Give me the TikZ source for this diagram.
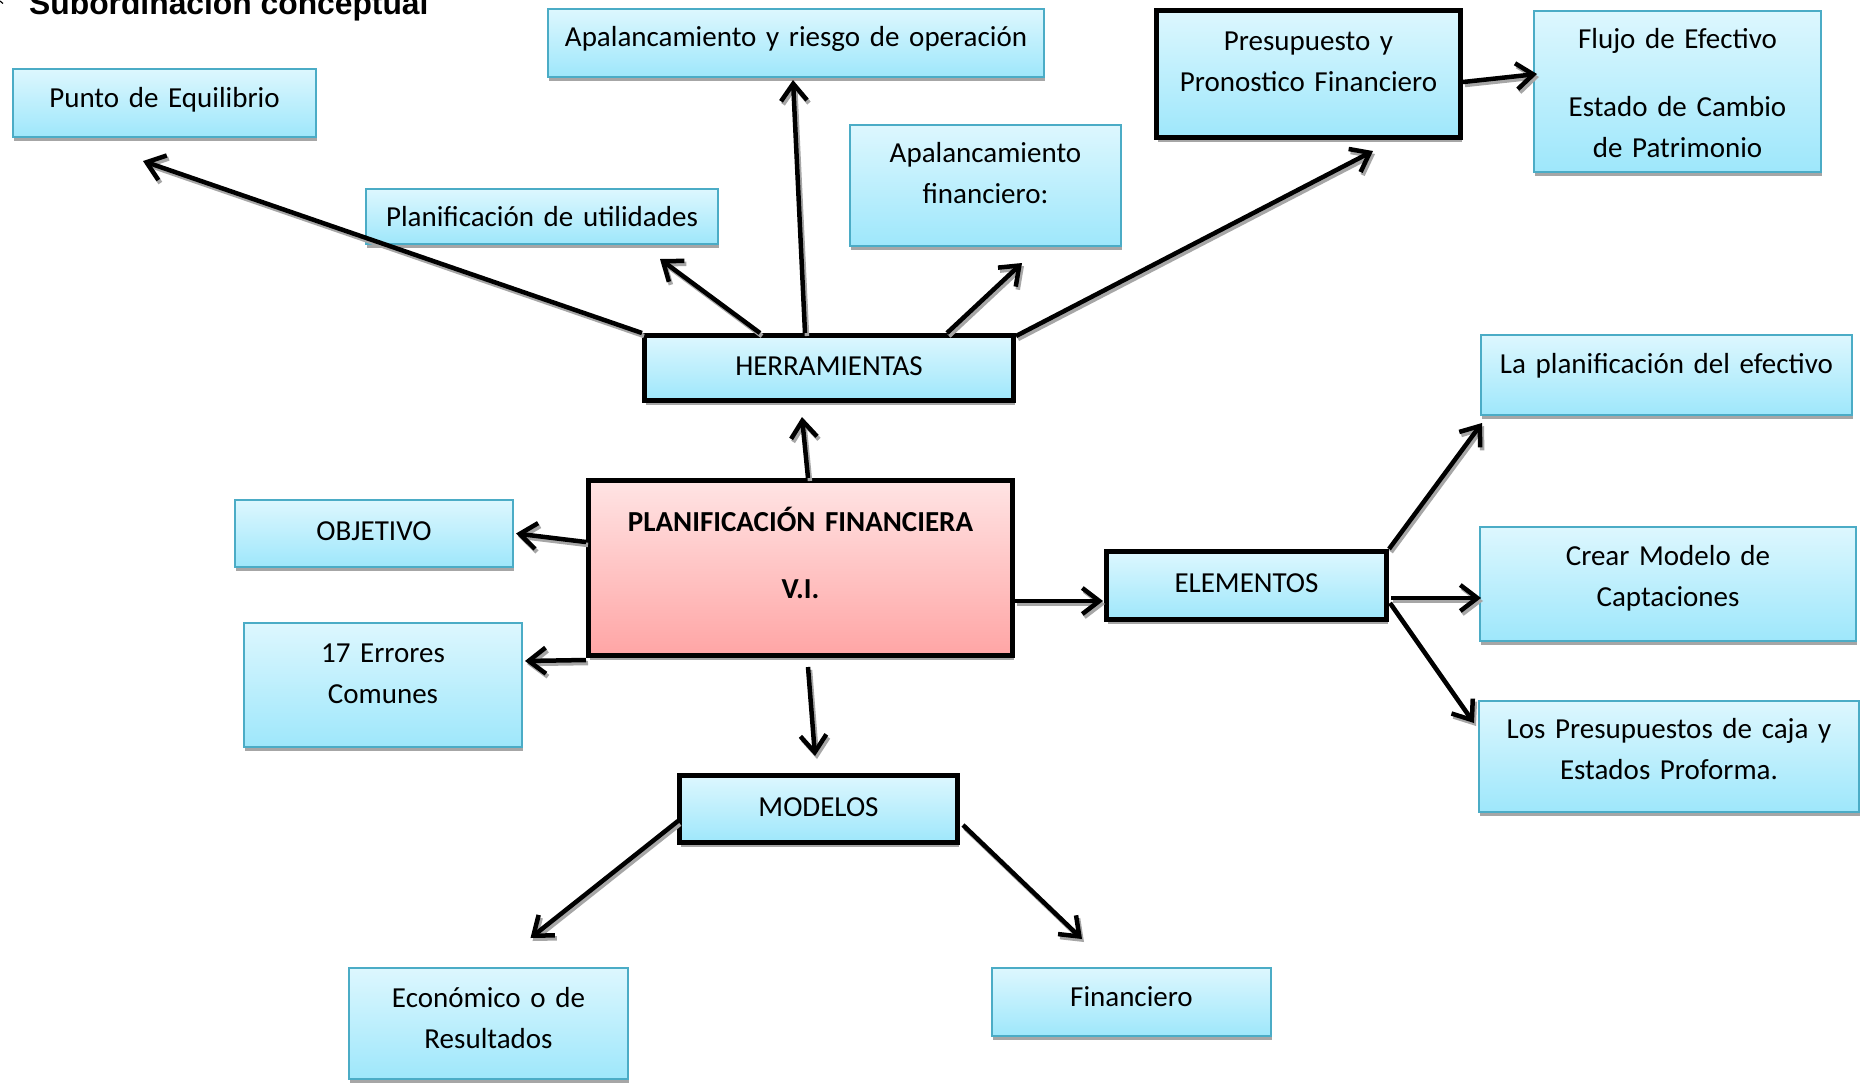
\documentclass[tikz,border=0pt]{standalone}
\usepackage{fontspec}
\setmainfont{Carlito}
\newfontfamily\headfont{Liberation Sans}
\usetikzlibrary{arrows.meta,shadows}

\definecolor{boxtop}{HTML}{DDF7FE}
\definecolor{boxbot}{HTML}{9EE7FB}
\definecolor{boxline}{HTML}{4BACC6}
\definecolor{pinktop}{HTML}{FFE4E4}
\definecolor{pinkbot}{HTML}{FFA5A5}
\definecolor{shadowgray}{HTML}{A6A6A6}

\tikzset{
  boxbase/.style={rectangle, align=center, font=\fontsize{29}{41}\selectfont,
    drop shadow={shadow xshift=1pt, shadow yshift=-4pt, fill=shadowgray, opacity=1}},
  lightbox/.style={boxbase, draw=boxline, top color=boxtop, bottom color=boxbot},
  heavybox/.style={boxbase, draw=black, top color=boxtop, bottom color=boxbot},
  mainbox/.style={boxbase, draw=black, top color=pinktop, bottom color=pinkbot,
    font=\fontsize{29}{41}\selectfont\bfseries},
  link/.style={line width=4.5pt, -{Straight Barb[length=17pt,width=26pt]}},
  linkshade/.style={link, draw=shadowgray, transform canvas={shift={(2pt,-3pt)}}},
}

% box: style, name, border width, x1, y1, x2, y2, first baseline, text
\newcommand\cbox[9]{%
  \pgfmathsetmacro\cbW{#6-#4-#3}%
  \pgfmathsetmacro\cbT{#8-#5-#3/2}%
  \pgfmathsetmacro\cbD{#7-#8-#3/2}%
  \node[#1, line width=#3pt, anchor=north west, inner sep=0pt,
        text width=\cbW pt, text height=\cbT pt, text depth=\cbD pt]
        (#2) at (#4,#5) {#9};}

% arrow with its grey shadow
\newcommand\arrowlink[2]{%
  \draw[linkshade] #1 -- #2;
  \draw[link] #1 -- #2;}

\begin{document}
\begin{tikzpicture}[x=1pt,y=-1pt]
\fill[white] (0,0) rectangle (1864,1082);
\useasboundingbox (0,0) rectangle (1864,1082);

% heading
\draw[line width=1.2pt] (0,1) -- (3,3.5);
\node[anchor=base west, inner sep=0pt, font=\headfont\bfseries\fontsize{31.8}{36}\selectfont]
  (title) at (29,14) {Subordinación conceptual};

% boxes
\cbox{lightbox}{punto}{2}{12}{68}{317}{138}{107}{Punto de Equilibrio}
\cbox{lightbox}{riesgo}{2}{547}{8}{1045}{78}{46}{Apalancamiento y riesgo de operación}
\cbox{heavybox}{presu}{5}{1154}{8}{1463}{140}{50}{Presupuesto y\\Pronostico Financiero}
\cbox{lightbox}{flujo}{2}{1533}{10}{1822}{173}{48}{Flujo de Efectivo\\[27pt]Estado de Cambio\\de Patrimonio}
\cbox{lightbox}{util}{2}{365}{188}{719}{245}{226}{Planificación de utilidades}
\cbox{lightbox}{apfin}{2}{849}{124}{1122}{247}{162}{Apalancamiento\\financiero:}
\cbox{heavybox}{herr}{5}{642}{333}{1016}{403}{375}{HERRAMIENTAS}
\cbox{lightbox}{efect}{2}{1480}{334}{1853}{416}{373}{La planificación del efectivo}
\cbox{lightbox}{objet}{2}{234}{499}{514}{568}{540}{OBJETIVO}
\cbox{mainbox}{planif}{5}{586}{478}{1015}{658}{531}{PLANIFICACIÓN FINANCIERA\\[26.5pt]V.I.}
\cbox{heavybox}{elem}{5}{1104}{549}{1389}{622}{592}{ELEMENTOS}
\cbox{lightbox}{crear}{2}{1479}{526}{1857}{642}{565}{Crear Modelo de\\Captaciones}
\cbox{lightbox}{caja}{2}{1478}{700}{1860}{813}{738}{Los Presupuestos de caja y\\Estados Proforma.}
\cbox{lightbox}{errores}{2}{243}{622}{523}{748}{662}{17 Errores\\Comunes}
\cbox{heavybox}{modelos}{5}{677}{773}{960}{845}{816}{MODELOS}
\cbox{lightbox}{econ}{2}{348}{967}{629}{1080}{1007}{Económico o de\\Resultados}
\cbox{lightbox}{finan}{2}{991}{967}{1272}{1037}{1006}{Financiero}

% connectors
\arrowlink{(herr.north west)}{([shift={(131,23)}]punto.south west)}
\arrowlink{([shift={(118,0)}]herr.north west)}{([shift={(-59,14)}]util.south east)}
\arrowlink{([shift={(163,0)}]herr.north west)}{([shift={(246,2)}]riesgo.south west)}
\arrowlink{([shift={(305,0)}]herr.north west)}{([shift={(173,16)}]apfin.south west)}
\arrowlink{([shift={(0,3)}]herr.north east)}{([shift={(219,11)}]presu.south west)}
\arrowlink{([shift={(0,8)}]presu.east)}{([shift={(4,-17.5)}]flujo.west)}
\arrowlink{([shift={(222,0)}]planif.north west)}{([shift={(160,14)}]herr.south west)}
\arrowlink{([shift={(0,64)}]planif.north west)}{([shift={(2,0)}]objet.east)}
\arrowlink{([shift={(0,2)}]planif.south west)}{([shift={(2,-24)}]errores.east)}
\arrowlink{([shift={(222,9)}]planif.south west)}{([shift={(138,-17)}]modelos.north west)}
\arrowlink{([shift={(0,33)}]planif.east)}{([shift={(-1,15.5)}]elem.west)}
\arrowlink{(elem.north east)}{([shift={(2,7)}]efect.south west)}
\arrowlink{([shift={(2,12.5)}]elem.east)}{([shift={(2,14)}]crear.west)}
\arrowlink{([shift={(1,17.5)}]elem.east)}{([shift={(-4,23)}]caja.north west)}
\arrowlink{([shift={(1,48)}]modelos.north west)}{([shift={(42,-29)}]econ.north)}
\arrowlink{([shift={(3,52)}]modelos.north east)}{([shift={(-49.5,-28)}]finan.north)}
\end{tikzpicture}
\end{document}
